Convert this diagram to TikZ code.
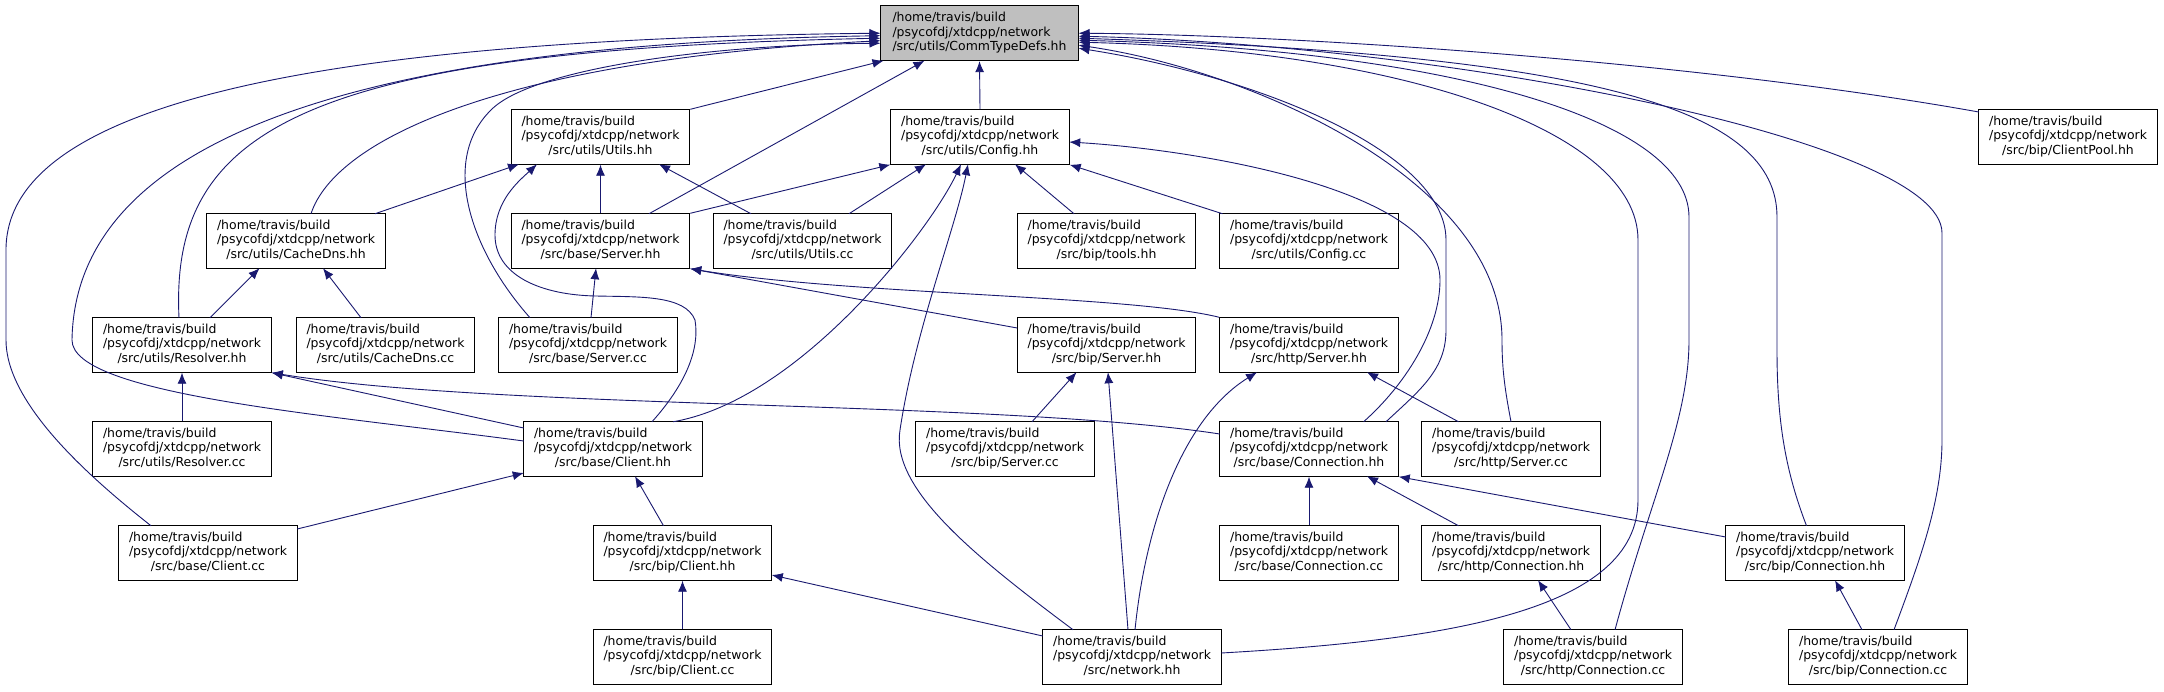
\documentclass[tikz,border=0pt]{standalone}
\usepackage{fontspec}
\setmainfont{DejaVu Sans}
\usetikzlibrary{arrows.meta,calc}
\definecolor{edgeblue}{HTML}{191970}
\definecolor{mainfill}{HTML}{BFBFBF}
\newcommand\flbl[1]{\begin{tabular}{@{}l@{}}/home/travis/build\\/psycofdj/xtdcpp/network\\\multicolumn{1}{@{}c@{}}{#1}\end{tabular}}
\begin{document}
\begin{tikzpicture}[x=1pt,y=-1pt,
 fbox/.style={draw=black, fill=white, line width=0.9pt, minimum width=178.5pt, minimum height=54.5pt, inner sep=0pt, font=\fontsize{12.45}{14.5}\selectfont},
 mainbox/.style={fbox, fill=mainfill, minimum width=198pt, minimum height=55pt},
 dep/.style={draw=edgeblue, line width=0.9pt, -{Latex[length=11pt,width=9pt]}}]
\useasboundingbox[fill=white] (0,0) rectangle (2164,691);
% nodes
\node[mainbox] (M) at (979.5,33.2) {\flbl{/src/utils/CommTypeDefs.hh}};
\node[fbox] (Uh) at (600.5,137) {\flbl{/src/utils/Utils.hh}};
\node[fbox] (Ch) at (980,137) {\flbl{/src/utils/Config.hh}};
\node[fbox] (CP) at (2068,137) {\flbl{/src/bip/ClientPool.hh}};
\node[fbox] (CDh) at (296,241) {\flbl{/src/utils/CacheDns.hh}};
\node[fbox] (BSh) at (600.5,241) {\flbl{/src/base/Server.hh}};
\node[fbox] (Ucc) at (802.5,241) {\flbl{/src/utils/Utils.cc}};
\node[fbox] (T) at (1106.5,241) {\flbl{/src/bip/tools.hh}};
\node[fbox] (Ccc) at (1309,241) {\flbl{/src/utils/Config.cc}};
\node[fbox] (Rh) at (182,345) {\flbl{/src/utils/Resolver.hh}};
\node[fbox] (CDcc) at (385.5,345) {\flbl{/src/utils/CacheDns.cc}};
\node[fbox] (BScc) at (588,345) {\flbl{/src/base/Server.cc}};
\node[fbox] (PSh) at (1106.5,345) {\flbl{/src/bip/Server.hh}};
\node[fbox] (HSh) at (1309,345) {\flbl{/src/http/Server.hh}};
\node[fbox] (Rcc) at (182,449) {\flbl{/src/utils/Resolver.cc}};
\node[fbox] (BCh) at (613,449) {\flbl{/src/base/Client.hh}};
\node[fbox] (PScc) at (1005,449) {\flbl{/src/bip/Server.cc}};
\node[fbox] (BCoh) at (1309,449) {\flbl{/src/base/Connection.hh}};
\node[fbox] (HScc) at (1511,449) {\flbl{/src/http/Server.cc}};
\node[fbox] (BCcc) at (208,553) {\flbl{/src/base/Client.cc}};
\node[fbox] (PCh) at (682.5,553) {\flbl{/src/bip/Client.hh}};
\node[fbox] (BCocc) at (1309,553) {\flbl{/src/base/Connection.cc}};
\node[fbox] (HCoh) at (1511,553) {\flbl{/src/http/Connection.hh}};
\node[fbox] (PCoh) at (1815,553) {\flbl{/src/bip/Connection.hh}};
\node[fbox] (PCcc) at (682.5,657) {\flbl{/src/bip/Client.cc}};
\node[fbox] (N) at (1132,657) {\flbl{/src/network.hh}};
\node[fbox] (HCocc) at (1593,657) {\flbl{/src/http/Connection.cc}};
\node[fbox] (PCocc) at (1878,657) {\flbl{/src/bip/Connection.cc}};
% straight edges
\draw[dep] (Uh.north east) -- ($(M)+(-96,27.5)$);
\draw[dep] (Ch.north) -- (M.south);
\draw[dep] ($(BSh)+(48.5,-27.25)$) -- ($(M)+(-55,27.5)$);
\draw[dep] ($(CDh)+(79,-27.25)$) -- ($(Uh)+(-81.5,27.25)$);
\draw[dep] (BSh.north) -- (Uh.south);
\draw[dep] ($(Ucc)+(-51.5,-27.25)$) -- ($(Uh)+(58.5,27.25)$);
\draw[dep] (BSh.north east) -- (Ch.south west);
\draw[dep] ($(Ucc)+(46.5,-27.25)$) -- ($(Ch)+(-54,27.25)$);
\draw[dep] ($(T)+(-32.5,-27.25)$) -- ($(Ch)+(35,27.25)$);
\draw[dep] ($(Ccc)+(-86.5,-27.25)$) -- (Ch.south east);
\draw[dep] ($(Rh)+(28,-27.25)$) -- ($(CDh)+(-36.5,27.25)$);
\draw[dep] ($(CDcc)+(-24.5,-27.25)$) -- ($(CDh)+(27,27.25)$);
\draw[dep] ($(BScc)+(3,-27.25)$) -- ($(BSh)+(-4.5,27.25)$);
\draw[dep] (Rcc.north) -- (Rh.south);
\draw[dep] ($(BCh)+(-89.25,-21)$) -- (Rh.south east);
\draw[dep] ($(BCcc)+(89.25,-24)$) -- ($(BCh)+(-89.25,24)$);
\draw[dep] ($(PCh)+(-19,-27.25)$) -- ($(BCh)+(22,27.25)$);
\draw[dep] (PCcc.north) -- (PCh.south);
\draw[dep] ($(N)+(-89.25,-21)$) -- ($(PCh)+(89.25,22)$);
\draw[dep] ($(PScc)+(27,-27.25)$) -- ($(PSh)+(-30,27.25)$);
\draw[dep] ($(N)+(-4,-27.25)$) -- ($(PSh)+(1.5,27.25)$);
\draw[dep] ($(HScc)+(-52.5,-27.25)$) -- ($(HSh)+(58,27.25)$);
\draw[dep] (BCocc.north) -- (BCoh.south);
\draw[dep] ($(HCoh)+(-52.5,-27.25)$) -- ($(BCoh)+(58,27.25)$);
\draw[dep] ($(PCoh)+(-89.25,-16)$) -- (BCoh.south east);
\draw[dep] ($(HCocc)+(-22,-27.25)$) -- ($(HCoh)+(27,27.25)$);
\draw[dep] ($(PCocc)+(-16,-27.25)$) -- ($(PCoh)+(20,27.25)$);
\draw[dep] ($(PSh)+(-89.25,-17)$) -- (BSh.south east);
% curved edges
\draw[dep] ($(BCoh)+(-89.25,-15)$) .. controls (1000,400) and (500,410) .. (Rh.south east);
\draw[dep] (HSh.north west) .. controls (1130,295) and (850,295) .. (BSh.south east);
\draw[dep] ($(CP)+(-89.25,-25)$) .. controls (1700,62) and (1300,35) .. ($(M)+(99,0)$);
\draw[dep] ($(PCocc)+(16,-27.25)$) .. controls (1920,560) and (1942,500) .. (1942,440) -- (1942,233) .. controls (1942,140) and (1450,45) .. ($(M)+(99,3)$);
\draw[dep] ($(PCoh)+(-8.5,-27.25)$) .. controls (1785,470) and (1777,420) .. (1777,350) -- (1777,217) .. controls (1777,110) and (1600,55) .. ($(M)+(99,5)$);
\draw[dep] ($(HCocc)+(22,-27.25)$) .. controls (1650,500) and (1689,420) .. (1689,340) -- (1689,217) .. controls (1689,120) and (1450,50) .. ($(M)+(99,7)$);
\draw[dep] ($(N)+(89.25,-4)$) .. controls (1450,640) and (1638,610) .. (1638,500) -- (1638,240) .. controls (1638,130) and (1400,50) .. ($(M)+(99,9)$);
\draw[dep] ($(HScc)+(0,-27.25)$) .. controls (1505,390) and (1502,370) .. (1502,340) .. controls (1502,180) and (1250,70) .. ($(M)+(99,12)$);
\draw[dep] ($(BCoh)+(77,-27.25)$) .. controls (1420,390) and (1446,370) .. (1446,330) -- (1446,240) .. controls (1446,150) and (1250,75) .. ($(M)+(99,15)$);
\draw[dep] ($(BCoh)+(54.6,-27.25)$) .. controls (1405,385) and (1440,330) .. (1440,280) .. controls (1440,190) and (1200,150) .. ($(Ch)+(89.25,5)$);
\draw[dep] ($(CDh)+(15,-27.25)$) .. controls (335,140) and (500,60) .. ($(M)+(-99,7.5)$);
\draw[dep] ($(Rh)+(-3,-27.25)$) .. controls (170,130) and (300,50) .. ($(M)+(-99,5)$);
\draw[dep] ($(BCcc)+(-57,-27.25)$) .. controls (80,470) and (6,400) .. (6,340) -- (6,250) .. controls (6,120) and (250,40) .. ($(M)+(-99,0)$);
\draw[dep] ($(BCh)+(-89.25,-8)$) .. controls (330,415) and (72,395) .. (72,340) .. controls (75,160) and (300,45) .. ($(M)+(-99,2.5)$);
\draw[dep] ($(BScc)+(-58,-27.25)$) .. controls (470,250) and (440,160) .. (491,110) .. controls (530,70) and (700,45) .. ($(M)+(-99,10)$);
\draw[dep] ($(BCh)+(39,-27.25)$) .. controls (685,385) and (700,350) .. (695,320) .. controls (685,295) and (640,297) .. (596,296) .. controls (540,295) and (495,275) .. (495,235) .. controls (495,200) and (520,180) .. ($(Uh)+(-63.5,27.25)$);
\draw[dep] ($(BCh)+(60,-27.25)$) .. controls (800,400) and (930,230) .. ($(Ch)+(-19,27.25)$);
\draw[dep] ($(N)+(-59,-27.25)$) .. controls (980,560) and (890,490) .. (900,430) .. controls (915,330) and (955,230) .. ($(Ch)+(-12,27.25)$);
\draw[dep] ($(N)+(3,-27.25)$) .. controls (1145,530) and (1180,420) .. ($(HSh)+(-52,27.25)$);
\end{tikzpicture}
\end{document}
